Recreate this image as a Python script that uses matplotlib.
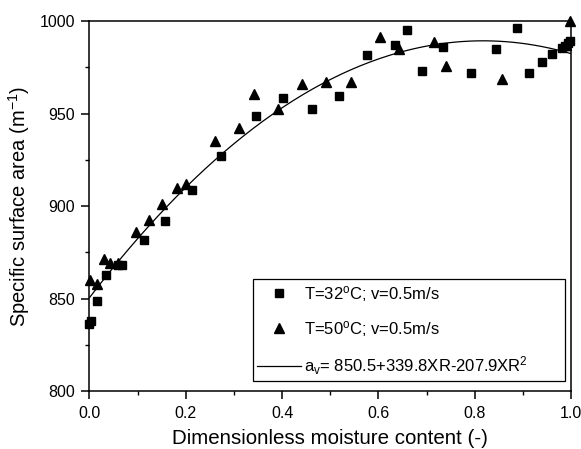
import numpy as np
import matplotlib
matplotlib.use("Agg")
import matplotlib.pyplot as plt
from matplotlib.ticker import MultipleLocator

plt.rcParams["font.family"] = ["Liberation Sans", "DejaVu Sans"]
plt.rcParams["mathtext.default"] = "regular"

# T=32 C data (squares)
xr_32 = [0.0, 0.003, 0.016, 0.035, 0.06, 0.068, 0.113, 0.156, 0.212, 0.274,
         0.346, 0.402, 0.462, 0.519, 0.576, 0.635, 0.66, 0.69, 0.734, 0.792,
         0.843, 0.888, 0.913, 0.94, 0.961, 0.982, 0.988, 0.993, 0.998]
av_32 = [836.5, 838.0, 848.5, 862.5, 868.0, 868.3, 881.6, 891.9, 908.6, 927.0,
         948.5, 958.5, 952.3, 959.6, 981.5, 986.9, 995.3, 973.0, 986.0, 971.7,
         985.0, 996.4, 971.7, 977.7, 982.0, 985.5, 986.5, 988.0, 989.0]

# T=50 C data (triangles)
xr_50 = [0.002, 0.016, 0.031, 0.043, 0.06, 0.097, 0.124, 0.151, 0.182, 0.201,
         0.26, 0.31, 0.342, 0.391, 0.441, 0.492, 0.544, 0.604, 0.643, 0.715,
         0.74, 0.857, 0.99, 0.998]
av_50 = [860.0, 858.0, 871.4, 869.0, 869.0, 886.0, 892.4, 901.0, 910.0, 912.0,
         935.3, 942.3, 960.5, 952.4, 966.0, 967.2, 967.2, 991.2, 985.0, 988.5,
         975.7, 968.5, 987.0, 1000.0]

# fitted model from the legend: a_v = 850.5 + 339.8 XR - 207.9 XR^2
fit_coeffs = [-207.9, 339.8, 850.5]

fig = plt.figure(figsize=(5.81, 4.49), dpi=100)
ax = fig.add_axes([0.154, 0.129, 0.829, 0.824])

xs = np.linspace(0, 1, 200)
ax.plot(xr_32, av_32, "s", color="black", markersize=5.5, clip_on=False,
        label="T=32$^{o}$C; v=0.5m/s")
ax.plot(xr_50, av_50, "^", color="black", markersize=7, clip_on=False,
        label="T=50$^{o}$C; v=0.5m/s")
ax.plot(xs, np.polyval(fit_coeffs, xs), "-", color="black", linewidth=0.9,
        label="a$_{v}$= 850.5+339.8XR-207.9XR$^{2}$")

ax.set_xlim(0, 1)
ax.set_ylim(800, 1000)
ax.xaxis.set_major_locator(MultipleLocator(0.2))
ax.xaxis.set_minor_locator(MultipleLocator(0.1))
ax.yaxis.set_major_locator(MultipleLocator(50))
ax.yaxis.set_minor_locator(MultipleLocator(25))
ax.set_xticklabels([f"{v:.1f}" for v in ax.get_xticks()])
ax.tick_params(which="major", direction="out", length=5.5, width=1.1,
               labelsize=11.5, pad=5)
ax.tick_params(which="minor", direction="out", length=3, width=1.0)
for s in ax.spines.values():
    s.set_linewidth(1.1)

ax.set_xlabel("Dimensionless moisture content (-)", fontsize=14.8, labelpad=6)
ax.set_ylabel("Specific surface area (m$^{-1}$)", fontsize=14.5, labelpad=5)

leg = ax.legend(loc="lower left", bbox_to_anchor=(0.34, 0.027, 0.648, 0.276),
                mode="expand", fontsize=12, fancybox=False, edgecolor="black",
                framealpha=1, handlelength=2.6, borderpad=0.25,
                labelspacing=0.92, handletextpad=0.2, borderaxespad=0)
leg.get_frame().set_linewidth(0.9)

fig.savefig("out.png", dpi=100)
